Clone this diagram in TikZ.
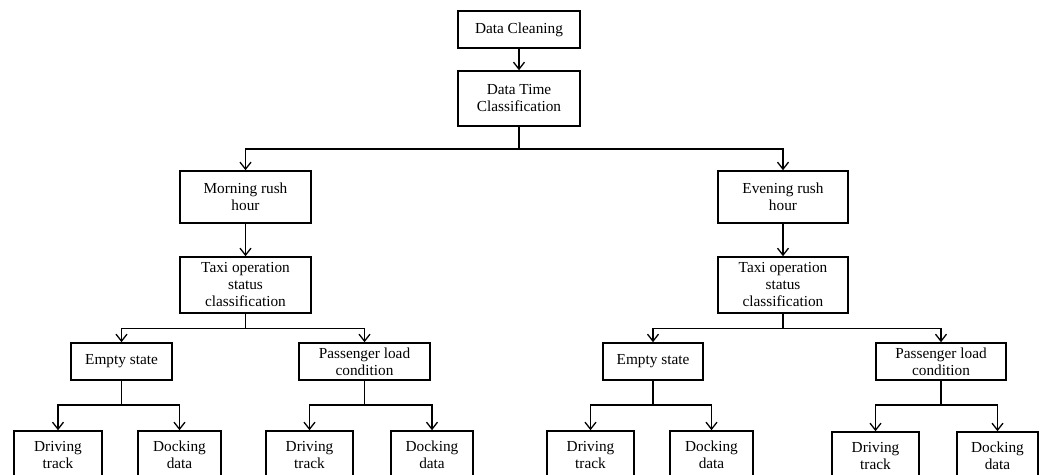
\documentclass[tikz,border=0pt]{standalone}
\usepackage{fontspec}
\setmainfont{Liberation Serif}
\usetikzlibrary{arrows.meta}
\tikzset{
  box/.style={draw, line width=1.6pt, align=center, inner sep=0pt,
    font=\fontsize{15.3}{17}\selectfont},
  leaf/.style={box, minimum height=48pt},
  link/.style={line width=1.6pt},
  arr/.style={link, -{Straight Barb[length=7pt,width=11pt,line width=1.3pt]}},
}
\begin{document}
\begin{tikzpicture}[x=1pt,y=-1pt]
\useasboundingbox (0,0) rectangle (1046,474);
\clip (0,0) rectangle (1046,474);

% top of the tree
\node[box, minimum width=122pt, minimum height=37pt] (dc) at (519,29.5) {Data Cleaning};
\node[box, minimum width=122pt, minimum height=55pt] (dt) at (519,98.5) {Data Time\\Classification};

% rush hour branches
\node[box, minimum width=131pt, minimum height=52pt] (mr) at (245.5,197) {Morning rush\\hour};
\node[box, minimum width=130pt, minimum height=52pt] (er) at (783,197) {Evening rush\\hour};
\node[box, minimum width=131pt, minimum height=56pt] (tl) at (245.5,285) {Taxi operation\\status\\classification};
\node[box, minimum width=130pt, minimum height=56pt] (tr) at (783,285) {Taxi operation\\status\\classification};

% operation states
\node[box, minimum width=101pt, minimum height=37pt] (el) at (121.5,361.5) {Empty state};
\node[box, minimum width=131pt, minimum height=37pt] (pl) at (364.5,361.5) {Passenger load\\condition};
\node[box, minimum width=100pt, minimum height=37pt] (ee) at (653,361.5) {Empty state};
\node[box, minimum width=130pt, minimum height=37pt] (pe) at (941,361.5) {Passenger load\\condition};

% data leaves
\node[leaf, minimum width=88pt] (d1) at (58,455) {Driving\\track};
\node[leaf, minimum width=83pt] (k1) at (179.5,455) {Docking\\data};
\node[leaf, minimum width=87pt] (d2) at (309.5,455) {Driving\\track};
\node[leaf, minimum width=82pt] (k2) at (432,455) {Docking\\data};
\node[leaf, minimum width=87pt] (d3) at (590.5,455) {Driving\\track};
\node[leaf, minimum width=83pt] (k3) at (711.5,455) {Docking\\data};
\node[leaf, minimum width=87pt] (d4) at (875.5,456) {Driving\\track};
\node[leaf, minimum width=81pt] (k4) at (997.5,456) {Docking\\data};

% junction points of the buses
\coordinate (j0) at (519,149);
\coordinate (jl) at (245.5,328.5);
\coordinate (jr) at (783,328.5);
\coordinate (j1) at (121.5,405);
\coordinate (j2) at (364.5,405);
\coordinate (j3) at (653,405);
\coordinate (j4) at (941,405);

% connectors
\draw[arr] (dc) -- (dt);
\draw[link] (dt.south) -- (j0);
\draw[arr] (j0) -| (mr.north);
\draw[arr] (j0) -| (er.north);
\draw[arr] (mr) -- (tl);
\draw[arr] (er) -- (tr);

\draw[link] (tl.south) -- (jl);
\draw[arr] (jl) -| (el.north);
\draw[arr] (jl) -| (pl.north);
\draw[link] (tr.south) -- (jr);
\draw[arr] (jr) -| (ee.north);
\draw[arr] (jr) -| (pe.north);

\draw[link] (el.south) -- (j1);
\draw[arr] (j1) -| (d1.north);
\draw[arr] (j1) -| (k1.north);
\draw[link] (pl.south) -- (j2);
\draw[arr] (j2) -| (d2.north);
\draw[arr] (j2) -| (k2.north);
\draw[link] (ee.south) -- (j3);
\draw[arr] (j3) -| (d3.north);
\draw[arr] (j3) -| (k3.north);
\draw[link] (pe.south) -- (j4);
\draw[arr] (j4) -| (d4.north);
\draw[arr] (j4) -| (k4.north);
\end{tikzpicture}
\end{document}
